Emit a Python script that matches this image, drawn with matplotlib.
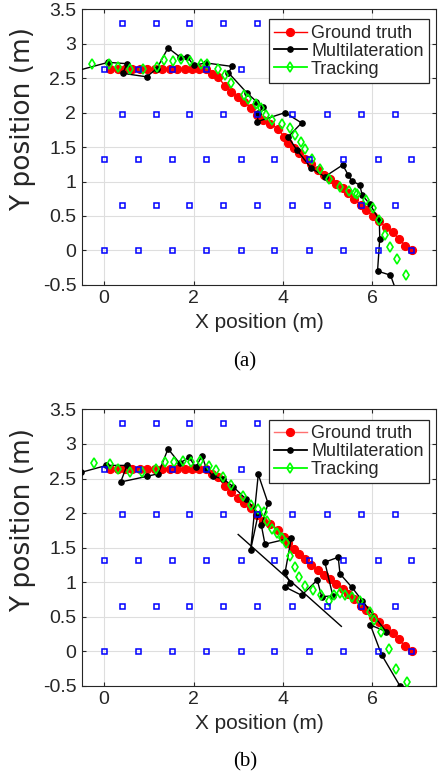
import matplotlib
matplotlib.use("Agg")
import matplotlib.pyplot as plt
from matplotlib.lines import Line2D

# ---------------- data ----------------
# anchor grid (blue squares)
anchor_x = [0.39, 1.15, 1.90, 2.67, 3.43,
            0.00, 0.76, 1.52, 2.29, 3.06,
            0.39, 1.15, 1.90, 2.67, 3.43, 4.21, 4.98, 5.74, 6.50,
            0.00, 0.76, 1.52, 2.29, 3.06, 3.81, 4.58, 5.35, 6.12, 6.88,
            0.39, 1.15, 1.90, 2.67, 3.43, 4.21, 4.98, 5.74, 6.50,
            0.00, 0.76, 1.52, 2.29, 3.06, 3.81, 4.58, 5.35, 6.12, 6.88]
anchor_y = [3.30] * 5 + [2.64] * 5 + [1.98] * 9 + [1.32] * 10 + [0.66] * 9 + [0.00] * 10

# ground truth (same in both panels)
gt_x = [0.13, 0.30, 0.46, 0.63, 0.80, 0.97, 1.13, 1.30, 1.47, 1.64, 1.80, 1.96, 2.13, 2.29,
        2.42, 2.55, 2.70, 2.85, 3.00, 3.14, 3.29, 3.42, 3.56, 3.72, 3.90, 4.03, 4.12, 4.24,
        4.36, 4.50, 4.64, 4.78, 4.92, 5.06, 5.20, 5.34, 5.47, 5.60, 5.74, 5.87, 6.01, 6.15,
        6.31, 6.46, 6.60, 6.74, 6.89]
gt_y = [2.64, 2.64, 2.64, 2.64, 2.64, 2.64, 2.64, 2.64, 2.64, 2.64, 2.64, 2.64, 2.64, 2.64,
        2.56, 2.52, 2.39, 2.30, 2.22, 2.15, 2.07, 1.97, 1.89, 1.84, 1.76, 1.65, 1.56, 1.48,
        1.41, 1.33, 1.25, 1.17, 1.10, 1.04, 0.97, 0.90, 0.83, 0.75, 0.66, 0.59, 0.50, 0.42,
        0.34, 0.26, 0.17, 0.07, 0.00]

# panel (a)
ml_a_x = [-0.65, 0.09, 0.51, 0.42, 0.95, 1.18, 1.43, 1.69, 1.86, 2.00, 2.29, 2.87, 2.78,
          3.19, 3.41, 3.56, 3.45, 3.43, 4.05, 4.42, 4.12, 4.31, 4.64, 4.94, 5.34, 5.46,
          5.54, 5.72, 5.78, 5.95, 6.16, 6.17, 6.12, 6.41, 6.60]
ml_a_y = [2.60, 2.73, 2.71, 2.57, 2.52, 2.64, 2.94, 2.81, 2.81, 2.69, 2.72, 2.67, 2.58,
          2.29, 2.16, 2.08, 1.99, 1.87, 2.00, 1.85, 1.65, 1.46, 1.19, 1.07, 1.24, 1.10,
          1.01, 0.95, 0.80, 0.67, 0.44, 0.17, -0.30, -0.36, -0.70]
tr_a_x = [-0.28, 0.10, 0.31, 0.58, 0.88, 1.18, 1.35, 1.55, 1.72, 1.93, 2.16, 2.30, 2.54,
          2.71, 2.84, 3.13, 3.22, 3.39, 3.52, 3.63, 3.76, 3.98, 4.17, 4.27, 4.40, 4.50,
          4.66, 4.84, 5.04, 5.28, 5.48, 5.61, 5.66, 5.87, 6.02, 6.15, 6.28, 6.41, 6.56, 6.75]
tr_a_y = [2.71, 2.71, 2.66, 2.63, 2.64, 2.66, 2.76, 2.75, 2.78, 2.75, 2.71, 2.71, 2.64,
          2.55, 2.43, 2.25, 2.20, 2.13, 2.06, 1.96, 1.90, 1.83, 1.77, 1.67, 1.58, 1.47,
          1.33, 1.18, 1.03, 0.92, 0.865, 0.83, 0.82, 0.73, 0.61, 0.44, 0.22, 0.05, -0.13, -0.36]

# panel (b)
ml_b_x = [-0.51, 0.05, 0.51, 0.37, 0.95, 1.21, 1.43, 1.69, 1.90, 2.05, 2.19, 2.29, 2.44,
          2.66, 2.89, 3.18, 3.45, 3.28, 3.45, 3.67, 3.52, 3.60, 4.19, 4.05, 4.16, 4.05,
          4.42, 4.77, 4.87, 5.12, 4.94, 5.24, 5.28, 5.54, 5.78, 6.31, 5.96, 6.21, 6.62]
ml_b_y = [2.59, 2.69, 2.69, 2.45, 2.53, 2.57, 2.93, 2.72, 2.81, 2.66, 2.83, 2.64, 2.53,
          2.50, 2.38, 2.20, 1.99, 1.47, 2.56, 2.14, 1.82, 1.55, 1.64, 1.14, 0.99, 0.93,
          0.81, 1.03, 0.79, 0.80, 1.29, 1.36, 1.12, 0.93, 0.73, 0.285, 0.38, -0.05, -0.50]
ml_b_seg_x = [3.00, 5.31]
ml_b_seg_y = [1.69, 0.36]
tr_b_x = [-0.23, 0.13, 0.31, 0.58, 0.84, 1.17, 1.36, 1.56, 1.77, 1.94, 2.14, 2.35, 2.50,
          2.66, 2.85, 3.10, 3.28, 3.45, 3.58, 3.65, 3.75, 3.87, 3.99, 4.08, 4.15, 4.27,
          4.36, 4.49, 4.67, 4.85, 5.03, 5.15, 5.28, 5.40, 5.54, 5.72, 5.95, 6.04, 6.19,
          6.37, 6.53, 6.77]
tr_b_y = [2.72, 2.71, 2.64, 2.60, 2.60, 2.64, 2.74, 2.74, 2.76, 2.74, 2.76, 2.68, 2.62,
          2.52, 2.40, 2.24, 2.12, 2.06, 2.02, 1.88, 1.77, 1.71, 1.64, 1.57, 1.38, 1.22,
          1.07, 0.95, 0.88, 0.81, 0.73, 0.81, 0.84, 0.81, 0.78, 0.72, 0.57, 0.45, 0.28,
          0.03, -0.26, -0.45]

x_ticks = [0, 2, 4, 6]
y_ticks = [-0.5, 0, 0.5, 1, 1.5, 2, 2.5, 3, 3.5]
y_tick_labels = ["-0.5", "0", "0.5", "1", "1.5", "2", "2.5", "3", "3.5"]
legend_labels = ["Ground truth", "Multilateration", "Tracking"]

# ---------------- style ----------------
plt.rcParams['font.family'] = ['Liberation Sans', 'DejaVu Sans']
txt = '#262626'
green = '#00ff00'

fig = plt.figure(figsize=(4.4, 7.74), dpi=100)

def draw(ax, mlx, mly, trx, try_, gt_leg_color, seg=None):
    ax.plot(gt_x, gt_y, '-', color='red', lw=1.0, marker='o', ms=5.6,
            mfc='red', mec='red', zorder=3)
    ax.plot(mlx, mly, '-', color='black', lw=1.0, marker='o', ms=3.8,
            mfc='black', mec='black', zorder=4)
    if seg is not None:
        ax.plot(seg[0], seg[1], '-', color='black', lw=1.0, zorder=4)
    ax.plot(trx, try_, linestyle='none', marker='d', ms=5.5, mfc='none',
            mec=green, mew=1.2, zorder=5)
    ax.plot(anchor_x, anchor_y, linestyle='none', marker='s', ms=3.6, mfc='none',
            mec='#0000ff', mew=1.1, zorder=6)
    ax.set_xlim(-0.5, 7.43)
    ax.set_ylim(-0.5, 3.5)
    ax.set_xticks(x_ticks)
    ax.set_yticks(y_ticks)
    ax.set_yticklabels(y_tick_labels)
    ax.grid(True, color='#dedede', lw=0.8)
    ax.set_axisbelow(True)
    ax.tick_params(direction='in', length=3, labelsize=14, colors=txt,
                   top=True, right=True, pad=4)
    for s in ax.spines.values():
        s.set_color(txt)
        s.set_linewidth(0.8)
    ax.set_xlabel('X position (m)', fontsize=15, color=txt, labelpad=4)
    ax.set_ylabel('Y position (m)', fontsize=19, color=txt,
                  family=['DejaVu Sans'])
    ax.yaxis.set_label_coords(-0.128, 0.601)
    handles = [
        Line2D([], [], color=gt_leg_color, lw=1.0, marker='o', ms=5.6, mfc='red', mec='red'),
        Line2D([], [], color='black', lw=1.3, marker='o', ms=3.8, mfc='black', mec='black'),
        Line2D([], [], color=green, lw=1.3, marker='d', ms=5.5, mfc='none',
               mec=green, mew=1.2),
    ]
    leg = ax.legend(handles, legend_labels, loc='upper right',
                    bbox_to_anchor=(0.980, 0.963), borderaxespad=0, fontsize=13,
                    frameon=True, fancybox=False, edgecolor='#262626',
                    framealpha=1, labelspacing=0.05, borderpad=0.3,
                    handlelength=1.8, handletextpad=0.25)
    leg.get_frame().set_linewidth(0.9)
    for t in leg.get_texts():
        t.set_color(txt)

ax1 = fig.add_axes([0.186, 0.632, 0.805, 0.356])
draw(ax1, ml_a_x, ml_a_y, tr_a_x, tr_a_y, 'red')
ax2 = fig.add_axes([0.186, 0.114, 0.805, 0.357])
draw(ax2, ml_b_x, ml_b_y, tr_b_x, tr_b_y, '#ff7070', seg=(ml_b_seg_x, ml_b_seg_y))

fig.text(245 / 440, 1 - 362 / 774, '(a)', ha='center', va='center', fontsize=15,
         family=['Liberation Serif', 'DejaVu Serif'], color='black')
fig.text(245 / 440, 1 - 762 / 774, '(b)', ha='center', va='center', fontsize=15,
         family=['Liberation Serif', 'DejaVu Serif'], color='black')

fig.savefig('out.png', dpi=100)
